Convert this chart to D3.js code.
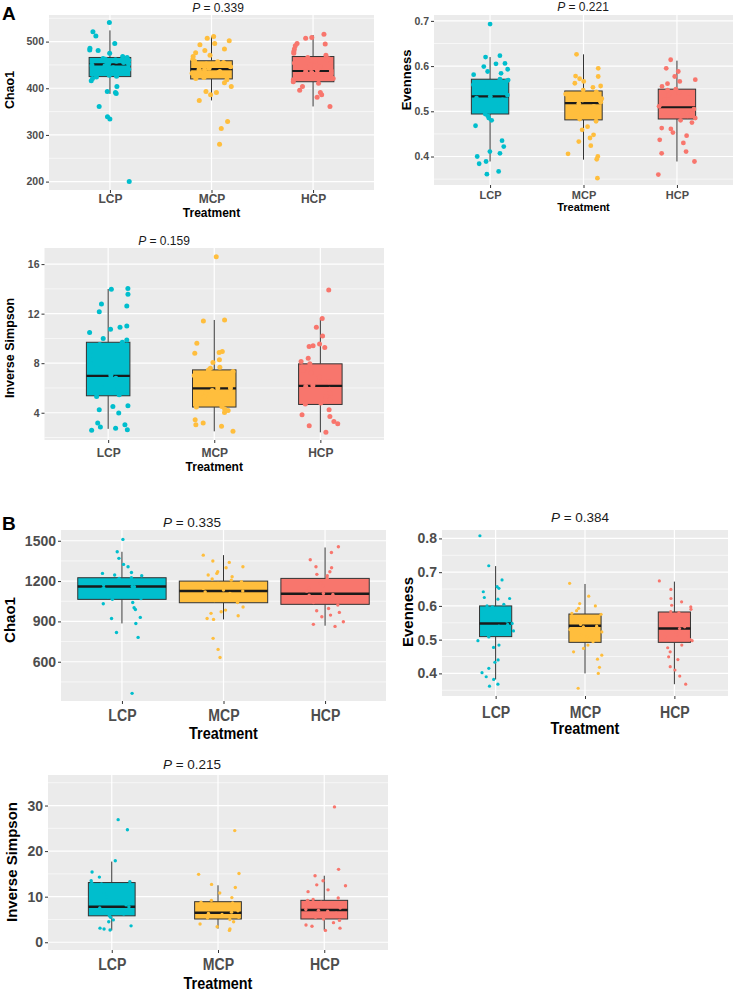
<!DOCTYPE html>
<html>
<head>
<meta charset="utf-8">
<script src="https://cdn.jsdelivr.net/npm/d3@7/dist/d3.min.js"></script>
<style>
  body { margin:0; background:#fff; }
  svg { display:block; font-family:"Liberation Sans", Arial, sans-serif; }
</style>
</head>
<body>
<div id="canvas"></div>
<script>
// groups on the x axis
var groups = ['LCP','MCP','HCP'];
var colors = ['#00BECD','#FFBE3D','#F8766D'];

// ---- A: Chao1 ----
var aChao1LCP = [541,521,512,496,486,482,481,475,468,466,464,462,461,460,458,457,455,454,452,451,450,448,446,444,441,439,435,432,428,426,424,421,416,404,393,391,389,361,339,334,200];
var aChao1MCP = [511,507,502,496,493,484,481,476,471,468,462,458,457,455,452,450,448,446,443,441,440,438,436,434,432,429,426,423,421,418,412,404,393,391,386,374,329,314,280];
var aChao1HCP = [516,509,507,496,495,491,484,479,475,471,466,463,461,458,454,450,446,443,439,437,436,434,431,428,425,421,418,414,411,404,396,391,386,381,361];
// [low whisker, q1, median, q3, high whisker]
var aChao1Box = [[388,425,451,466,524],[374,420,441,459,511],[361,414,437,468,514]];

// ---- A: Evenness ----
var aEvenLCP = [0.693,0.623,0.620,0.606,0.605,0.599,0.593,0.588,0.584,0.581,0.571,0.569,0.566,0.559,0.553,0.547,0.541,0.536,0.533,0.529,0.525,0.522,0.516,0.511,0.505,0.500,0.494,0.490,0.485,0.480,0.468,0.435,0.422,0.411,0.407,0.400,0.389,0.384,0.367,0.361];
var aEvenMCP = [0.626,0.595,0.578,0.577,0.572,0.566,0.562,0.556,0.553,0.547,0.543,0.538,0.533,0.528,0.525,0.520,0.517,0.511,0.505,0.500,0.496,0.490,0.483,0.478,0.466,0.459,0.448,0.441,0.433,0.424,0.406,0.400,0.394,0.352];
var aEvenHCP = [0.614,0.595,0.588,0.577,0.570,0.566,0.561,0.555,0.549,0.547,0.541,0.536,0.530,0.525,0.518,0.511,0.505,0.500,0.496,0.490,0.485,0.480,0.475,0.463,0.461,0.453,0.446,0.437,0.430,0.411,0.407,0.389,0.360];
var aEvenBox = [[0.389,0.494,0.533,0.571,0.620],[0.393,0.481,0.518,0.545,0.626],[0.389,0.483,0.509,0.549,0.612]];

// ---- A: Inverse Simpson ----
var aInvLCP = [14.04,13.96,13.56,12.78,12.62,12.16,11.0,10.9,10.74,10.47,10.0,9.88,9.7,9.5,8.67,8.3,8.0,7.6,7.33,7.19,7.0,6.79,6.5,6.39,6.1,5.99,5.7,5.45,5.32,4.56,4.5,4.24,3.97,3.17,3.03,2.85,2.74,2.63,2.58];
var aInvMCP = [16.59,11.49,11.41,9.61,8.94,8.86,8.81,8.27,8.05,7.68,7.6,7.45,7.33,7.0,6.66,6.3,6.0,5.99,5.8,5.58,5.3,5.05,4.8,4.51,4.47,4.3,4.19,4.03,3.44,3.17,3.03,2.9,2.5];
var aInvHCP = [13.91,11.6,10.9,10.2,9.56,9.4,9.34,9.26,8.4,8.13,7.95,7.7,7.46,7.2,6.87,6.5,6.2,6.12,5.9,5.6,5.32,5.0,4.78,4.7,4.24,3.84,3.70,3.30,3.11,2.95,2.42];
var aInvBox = [[2.7,5.37,6.98,9.69,13.99],[2.5,4.46,5.96,7.46,11.49],[2.42,4.67,6.17,7.95,11.6]];

// ---- B: Chao1 ----
var bChao1LCP = [1510,1418,1369,1324,1307,1264,1257,1245,1240,1225,1220,1210,1200,1190,1183,1170,1160,1158,1150,1140,1133,1120,1108,1095,1084,1070,1064,1041,1031,1002,989,930,922,885,818,781,365];
var bChao1MCP = [1393,1349,1339,1307,1299,1269,1257,1245,1232,1215,1207,1195,1183,1170,1158,1145,1133,1126,1120,1108,1095,1084,1070,1055,1041,1007,984,972,960,942,922,915,774,692,632];
var bChao1HCP = [1455,1413,1359,1307,1299,1269,1250,1240,1220,1200,1183,1165,1145,1125,1108,1100,1095,1084,1070,1059,1040,1022,996,979,967,947,935,898,878,863];
var bChao1Box = [[885,1064,1160,1225,1418],[915,1039,1126,1200,1393],[868,1027,1106,1220,1450]];

// ---- B: Evenness ----
var bEvenLCP = [0.808,0.719,0.677,0.657,0.652,0.642,0.625,0.622,0.620,0.605,0.600,0.597,0.590,0.578,0.570,0.563,0.555,0.548,0.545,0.540,0.533,0.526,0.520,0.511,0.508,0.497,0.484,0.477,0.440,0.433,0.415,0.402,0.390,0.382,0.368,0.362];
var bEvenMCP = [0.667,0.629,0.607,0.600,0.593,0.586,0.578,0.575,0.568,0.560,0.553,0.545,0.540,0.538,0.530,0.523,0.515,0.509,0.500,0.494,0.484,0.474,0.464,0.454,0.442,0.418,0.400,0.356];
var bEvenHCP = [0.674,0.649,0.622,0.612,0.602,0.597,0.590,0.583,0.580,0.568,0.560,0.553,0.545,0.538,0.533,0.523,0.515,0.509,0.500,0.497,0.484,0.476,0.464,0.449,0.441,0.420,0.410,0.392,0.368];
var bEvenBox = [[0.382,0.509,0.548,0.600,0.718],[0.400,0.492,0.541,0.576,0.665],[0.368,0.492,0.533,0.582,0.672]];

// ---- B: Inverse Simpson ----
var bInvLCP = [26.9,24.7,17.9,15.4,14.3,13.5,13.3,13.0,12.8,12.2,11.9,10.9,10.0,9.3,8.6,8.2,7.8,7.5,7.0,6.8,6.2,5.8,5.5,4.9,4.5,3.6,3.1,2.9,2.7];
var bInvMCP = [24.5,15.1,14.9,12.7,12.0,10.8,9.8,9.2,8.8,8.6,8.2,7.9,7.5,7.2,6.9,6.6,6.3,6.1,5.8,5.5,5.3,5.0,4.5,4.0,3.4,2.9,2.6];
var bInvHCP = [29.7,16.0,14.6,13.5,12.6,12.4,11.5,11.1,9.7,9.4,9.2,8.8,8.4,8.0,7.5,7.2,7.0,6.8,6.4,6.1,5.8,5.5,5.1,4.8,4.3,3.8,3.5,3.1,2.6];
var bInvBox = [[2.6,5.8,7.8,13.1,17.7],[3.0,5.1,6.5,8.9,12.5],[2.7,5.1,7.1,9.2,14.6]];

// tick values and p values
var aChao1Ticks = [200,300,400,500], aChao1Minor = [250,350,450,550];
var aEvenTicks = [0.4,0.5,0.6,0.7], aEvenMinor = [0.35,0.45,0.55,0.65];
var aInvTicks = [4,8,12,16], aInvMinor = [2,6,10,14];
var bChao1Ticks = [600,900,1200,1500], bChao1Minor = [450,750,1050,1350];
var bEvenTicks = [0.4,0.5,0.6,0.7,0.8], bEvenMinor = [0.35,0.45,0.55,0.65,0.75];
var bInvTicks = [0,10,20,30], bInvMinor = [5,15,25,35];
var pValues = ['0.339','0.221','0.159','0.335','0.384','0.215'];

var W = 736, H = 991;
var svg = d3.select('#canvas').append('svg').attr('width',W).attr('height',H);

var rnd = d3.randomUniform.source(d3.randomLcg(0.37))(-1,1);

// squeeze a text node horizontally (B panels use a condensed face)
function squeeze(sel, k) {
    sel.each(function(){
        var w = this.getComputedTextLength();
        d3.select(this).attr('textLength', w*k).attr('lengthAdjust','spacingAndGlyphs');
    });
}

function drawPanel(c) {
    var g = svg.append('g');
    var x = d3.scalePoint().domain(groups).range([c.l,c.r]).padding(0.6);
    var y = d3.scaleLinear().domain(c.dom).range([c.b,c.t]);
    var step = x.step();

    g.append('rect').attr('x',c.l).attr('y',c.t).attr('width',c.r-c.l).attr('height',c.b-c.t)
        .attr('fill','#EBEBEB');

    g.selectAll('.minor').data(c.minor.filter(function(v){return y(v)>c.t && y(v)<c.b;}))
        .enter().append('line')
        .attr('x1',c.l).attr('x2',c.r)
        .attr('y1',function(d){return y(d);}).attr('y2',function(d){return y(d);})
        .attr('stroke','#fff').attr('stroke-width',0.6);
    g.selectAll('.major').data(c.ticks)
        .enter().append('line')
        .attr('x1',c.l).attr('x2',c.r)
        .attr('y1',function(d){return y(d);}).attr('y2',function(d){return y(d);})
        .attr('stroke','#fff').attr('stroke-width',1.2);
    g.selectAll('.vgrid').data(groups)
        .enter().append('line')
        .attr('x1',function(d){return x(d);}).attr('x2',function(d){return x(d);})
        .attr('y1',c.t).attr('y2',c.b)
        .attr('stroke','#fff').attr('stroke-width',1.2);

    // boxes
    var bw = step*c.bw;
    groups.forEach(function(grp,i){
        var s = c.box[i], cx = x(grp);
        g.append('line').attr('x1',cx).attr('x2',cx).attr('y1',y(s[4])).attr('y2',y(s[3]))
            .attr('stroke','#333').attr('stroke-width',1);
        g.append('line').attr('x1',cx).attr('x2',cx).attr('y1',y(s[1])).attr('y2',y(s[0]))
            .attr('stroke','#333').attr('stroke-width',1);
        g.append('rect').attr('x',cx-bw/2).attr('width',bw)
            .attr('y',y(s[3])).attr('height',y(s[1])-y(s[3]))
            .attr('fill',colors[i]).attr('stroke','#333').attr('stroke-width',1);
        g.append('line').attr('x1',cx-bw/2).attr('x2',cx+bw/2).attr('y1',y(s[2])).attr('y2',y(s[2]))
            .attr('stroke','#1a1a1a').attr('stroke-width',c.med);
    });

    // jittered points
    groups.forEach(function(grp,i){
        g.selectAll('.p'+i).data(c.pts[i]).enter().append('circle')
            .attr('cx',function(){return x(grp)+rnd()*0.2*step;})
            .attr('cy',function(d){return y(d);})
            .attr('r',c.pr)
            .attr('fill',colors[i]);
    });

    // axes
    var ay = g.append('g').attr('transform','translate('+c.l+',0)')
        .call(d3.axisLeft(y).tickValues(c.ticks).tickSize(3).tickPadding(2).tickFormat(c.fmt));
    ay.select('.domain').remove();
    ay.selectAll('line').attr('stroke','#333');
    ay.selectAll('text').attr('font-size',c.yfs).attr('font-weight','bold').attr('fill','#4D4D4D')
        .attr('font-family','Liberation Sans, Arial, sans-serif');

    var ax = g.append('g').attr('transform','translate(0,'+c.b+')')
        .call(d3.axisBottom(x).tickSize(3).tickPadding(c.xpad));
    ax.select('.domain').remove();
    ax.selectAll('line').attr('stroke','#333');
    var xt = ax.selectAll('text').attr('font-size',c.xfs).attr('font-weight','bold').attr('fill','#4D4D4D')
        .attr('font-family','Liberation Sans, Arial, sans-serif');

    var tr = g.append('text').attr('x',x('MCP')).attr('y',c.treatY)
        .attr('text-anchor','middle').attr('font-size',c.xfs).attr('font-weight','bold')
        .text('Treatment');

    var yt = g.append('text').attr('transform','translate('+c.ytx+','+c.yty+') rotate(-90)')
        .attr('text-anchor','middle').attr('font-size',c.ytfs).attr('font-weight','bold')
        .text(c.ytitle);

    if (c.narrow) { squeeze(xt, 0.88); squeeze(tr, 0.9); }

    var tt = g.append('text').attr('x',c.tx).attr('y',c.ty).attr('text-anchor','middle')
        .attr('font-size',c.tfs).attr('fill','#1a1a1a');
    tt.append('tspan').attr('font-style','italic').text('P');
    tt.append('tspan').text(' = ' + c.p);
}

var f0 = d3.format('d'), f1 = d3.format('.1f');

drawPanel({l:49,r:374,t:15,b:190,dom:[182,557],ticks:aChao1Ticks,minor:aChao1Minor,fmt:f0,
    pts:[aChao1LCP,aChao1MCP,aChao1HCP],box:aChao1Box,bw:0.41,pr:2.5,med:2.2,
    yfs:10.5,xfs:12,xpad:1,treatY:217,ytitle:'Chao1',ytx:14,yty:90,ytfs:12.5,
    tx:218,ty:12,tfs:12,p:pValues[0]});
drawPanel({l:434,r:733,t:15,b:185,dom:[0.337,0.713],ticks:aEvenTicks,minor:aEvenMinor,fmt:f1,
    pts:[aEvenLCP,aEvenMCP,aEvenHCP],box:aEvenBox,bw:0.4,pr:2.4,med:2.2,
    yfs:10.5,xfs:11,xpad:3,treatY:211,ytitle:'Evenness',ytx:411,yty:80,ytfs:13,
    tx:583,ty:11,tfs:12,p:pValues[1]});
drawPanel({l:44.5,r:384,t:248,b:440,dom:[1.8,17.3],ticks:aInvTicks,minor:aInvMinor,fmt:f0,
    pts:[aInvLCP,aInvMCP,aInvHCP],box:aInvBox,bw:0.41,pr:2.5,med:2.2,
    yfs:10.5,xfs:12,xpad:5,treatY:471,ytitle:'Inverse Simpson',ytx:14,yty:348,ytfs:12.5,
    tx:164,ty:245,tfs:12,p:pValues[2]});
drawPanel({l:61,r:386,t:530,b:701,dom:[308,1580],ticks:bChao1Ticks,minor:bChao1Minor,fmt:f0,
    pts:[bChao1LCP,bChao1MCP,bChao1HCP],box:bChao1Box,bw:0.87,pr:1.7,med:2.5,
    yfs:14,xfs:16,xpad:6,treatY:739,ytitle:'Chao1',ytx:15,yty:620,ytfs:15,narrow:true,
    tx:192,ty:527,tfs:13.5,p:pValues[3]});
drawPanel({l:442,r:728,t:530,b:696,dom:[0.333,0.825],ticks:bEvenTicks,minor:bEvenMinor,fmt:f1,
    pts:[bEvenLCP,bEvenMCP,bEvenHCP],box:bEvenBox,bw:0.36,pr:1.6,med:2.5,
    yfs:14,xfs:16,xpad:8,treatY:734,ytitle:'Evenness',ytx:413,yty:612,ytfs:15,narrow:true,
    tx:580,ty:522,tfs:13.5,p:pValues[4]});
drawPanel({l:48,r:388,t:775,b:950,dom:[-1.7,36.7],ticks:bInvTicks,minor:bInvMinor,fmt:f0,
    pts:[bInvLCP,bInvMCP,bInvHCP],box:bInvBox,bw:0.44,pr:1.7,med:2.5,
    yfs:14,xfs:16,xpad:6,treatY:989,ytitle:'Inverse Simpson',ytx:17,yty:862,ytfs:15,narrow:true,
    tx:192,ty:769,tfs:13.5,p:pValues[5]});

// panel letters
svg.append('text').attr('x',2).attr('y',20).attr('font-size',19).attr('font-weight','bold').text('A');
svg.append('text').attr('x',2).attr('y',530).attr('font-size',19).attr('font-weight','bold').text('B');
</script>
</body>
</html>
